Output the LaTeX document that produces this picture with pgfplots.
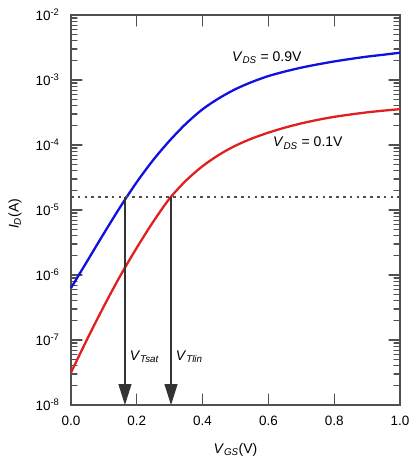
\documentclass[border=0pt]{standalone}
\usepackage{fontspec}
\setmainfont{Liberation Sans}
\usepackage{pgfplots}
\pgfplotsset{compat=1.18}
\usetikzlibrary{arrows.meta}
\definecolor{axgray}{HTML}{505050}
\definecolor{curveblue}{HTML}{1010E0}
\definecolor{curvered}{HTML}{E02020}
\pgfplotsset{
  framepart/.style={axgray, line width=1.4pt, forget plot},
  tickpath/.style={axgray, line width=1.1pt, line join=round, forget plot},
}
\begin{document}
\begin{tikzpicture}
\begin{axis}[
  scale only axis,
  width=329pt, height=390pt,
  ymode=log,
  xmin=0, xmax=1, ymin=1e-8, ymax=1e-2,
  axis line style={axgray, line width=1.4pt},
  tick style={axgray, line width=1.1pt},
  tick align=inside,
  major tick length=11pt,
  minor tick length=6pt,
  xtick={0,0.2,0.4,0.6,0.8,1.0},
  xticklabels={0.0,0.2,0.4,0.6,0.8,1.0},
  ytick={1e-8,1e-7,1e-6,1e-5,1e-4,1e-3,1e-2},
  yticklabels={10\textsuperscript{-8},10\textsuperscript{-7},10\textsuperscript{-6},10\textsuperscript{-5},10\textsuperscript{-4},10\textsuperscript{-3},10\textsuperscript{-2}},
  ticklabel style={font=\fontsize{13.5}{16}\selectfont, text=black},
  xticklabel style={anchor=center, yshift=-16pt},
  yticklabel style={anchor=east, xshift=-8pt},
  xlabel={\textit{V}\textsubscript{\textit{GS}}(V)},
  ylabel={\textit{I}\textsubscript{\textit{D}}(A)},
  label style={font=\fontsize{14}{16}\selectfont},
  xlabel style={at={(axis description cs:0.5,0)}, anchor=center, yshift=-45pt},
  ylabel style={at={(axis description cs:0,0.49)}, anchor=center, rotate=0, yshift=56pt},
  clip=false,
]
% frame
\addplot[framepart] coordinates {(0,1e-8) (1,1e-8) (1,1e-2) (0,1e-2) (0,1e-8)};
% x ticks, bottom and top, as one zigzag path each
\addplot[tickpath] coordinates {(0,1e-8)
 (0.2,1e-8)(0.2,1.476e-8)(0.2,1e-8) (0.4,1e-8)(0.4,1.476e-8)(0.4,1e-8)
 (0.6,1e-8)(0.6,1.476e-8)(0.6,1e-8) (0.8,1e-8)(0.8,1.476e-8)(0.8,1e-8) (1,1e-8)};
\addplot[tickpath] coordinates {(0,1e-2)
 (0.2,1e-2)(0.2,6.78e-3)(0.2,1e-2) (0.4,1e-2)(0.4,6.78e-3)(0.4,1e-2)
 (0.6,1e-2)(0.6,6.78e-3)(0.6,1e-2) (0.8,1e-2)(0.8,6.78e-3)(0.8,1e-2) (1,1e-2)};
% y ticks on the left side
\addplot[tickpath] coordinates {(0,1e-8)
 (0,2e-8)(0.0182,2e-8)(0,2e-8) (0,3e-8)(0.0182,3e-8)(0,3e-8) (0,4e-8)(0.0182,4e-8)(0,4e-8)
 (0,5e-8)(0.0182,5e-8)(0,5e-8) (0,6e-8)(0.0182,6e-8)(0,6e-8) (0,7e-8)(0.0182,7e-8)(0,7e-8)
 (0,8e-8)(0.0182,8e-8)(0,8e-8) (0,9e-8)(0.0182,9e-8)(0,9e-8) (0,1e-7)(0.0334,1e-7)(0,1e-7)
 (0,2e-7)(0.0182,2e-7)(0,2e-7) (0,3e-7)(0.0182,3e-7)(0,3e-7) (0,4e-7)(0.0182,4e-7)(0,4e-7)
 (0,5e-7)(0.0182,5e-7)(0,5e-7) (0,6e-7)(0.0182,6e-7)(0,6e-7) (0,7e-7)(0.0182,7e-7)(0,7e-7)
 (0,8e-7)(0.0182,8e-7)(0,8e-7) (0,9e-7)(0.0182,9e-7)(0,9e-7) (0,1e-6)(0.0334,1e-6)(0,1e-6)
 (0,2e-6)(0.0182,2e-6)(0,2e-6) (0,3e-6)(0.0182,3e-6)(0,3e-6) (0,4e-6)(0.0182,4e-6)(0,4e-6)
 (0,5e-6)(0.0182,5e-6)(0,5e-6) (0,6e-6)(0.0182,6e-6)(0,6e-6) (0,7e-6)(0.0182,7e-6)(0,7e-6)
 (0,8e-6)(0.0182,8e-6)(0,8e-6) (0,9e-6)(0.0182,9e-6)(0,9e-6) (0,1e-5)(0.0334,1e-5)(0,1e-5)
 (0,2e-5)(0.0182,2e-5)(0,2e-5) (0,3e-5)(0.0182,3e-5)(0,3e-5) (0,4e-5)(0.0182,4e-5)(0,4e-5)
 (0,5e-5)(0.0182,5e-5)(0,5e-5) (0,6e-5)(0.0182,6e-5)(0,6e-5) (0,7e-5)(0.0182,7e-5)(0,7e-5)
 (0,8e-5)(0.0182,8e-5)(0,8e-5) (0,9e-5)(0.0182,9e-5)(0,9e-5) (0,1e-4)(0.0334,1e-4)(0,1e-4)
 (0,2e-4)(0.0182,2e-4)(0,2e-4) (0,3e-4)(0.0182,3e-4)(0,3e-4) (0,4e-4)(0.0182,4e-4)(0,4e-4)
 (0,5e-4)(0.0182,5e-4)(0,5e-4) (0,6e-4)(0.0182,6e-4)(0,6e-4) (0,7e-4)(0.0182,7e-4)(0,7e-4)
 (0,8e-4)(0.0182,8e-4)(0,8e-4) (0,9e-4)(0.0182,9e-4)(0,9e-4) (0,1e-3)(0.0334,1e-3)(0,1e-3)
 (0,2e-3)(0.0182,2e-3)(0,2e-3) (0,3e-3)(0.0182,3e-3)(0,3e-3) (0,4e-3)(0.0182,4e-3)(0,4e-3)
 (0,5e-3)(0.0182,5e-3)(0,5e-3) (0,6e-3)(0.0182,6e-3)(0,6e-3) (0,7e-3)(0.0182,7e-3)(0,7e-3)
 (0,8e-3)(0.0182,8e-3)(0,8e-3) (0,9e-3)(0.0182,9e-3)(0,9e-3) (0,1e-2)};
% y ticks on the right side
\addplot[tickpath] coordinates {(1,1e-8)
 (1,2e-8)(0.9818,2e-8)(1,2e-8) (1,3e-8)(0.9818,3e-8)(1,3e-8) (1,4e-8)(0.9818,4e-8)(1,4e-8)
 (1,5e-8)(0.9818,5e-8)(1,5e-8) (1,6e-8)(0.9818,6e-8)(1,6e-8) (1,7e-8)(0.9818,7e-8)(1,7e-8)
 (1,8e-8)(0.9818,8e-8)(1,8e-8) (1,9e-8)(0.9818,9e-8)(1,9e-8) (1,1e-7)(0.9666,1e-7)(1,1e-7)
 (1,2e-7)(0.9818,2e-7)(1,2e-7) (1,3e-7)(0.9818,3e-7)(1,3e-7) (1,4e-7)(0.9818,4e-7)(1,4e-7)
 (1,5e-7)(0.9818,5e-7)(1,5e-7) (1,6e-7)(0.9818,6e-7)(1,6e-7) (1,7e-7)(0.9818,7e-7)(1,7e-7)
 (1,8e-7)(0.9818,8e-7)(1,8e-7) (1,9e-7)(0.9818,9e-7)(1,9e-7) (1,1e-6)(0.9666,1e-6)(1,1e-6)
 (1,2e-6)(0.9818,2e-6)(1,2e-6) (1,3e-6)(0.9818,3e-6)(1,3e-6) (1,4e-6)(0.9818,4e-6)(1,4e-6)
 (1,5e-6)(0.9818,5e-6)(1,5e-6) (1,6e-6)(0.9818,6e-6)(1,6e-6) (1,7e-6)(0.9818,7e-6)(1,7e-6)
 (1,8e-6)(0.9818,8e-6)(1,8e-6) (1,9e-6)(0.9818,9e-6)(1,9e-6) (1,1e-5)(0.9666,1e-5)(1,1e-5)
 (1,2e-5)(0.9818,2e-5)(1,2e-5) (1,3e-5)(0.9818,3e-5)(1,3e-5) (1,4e-5)(0.9818,4e-5)(1,4e-5)
 (1,5e-5)(0.9818,5e-5)(1,5e-5) (1,6e-5)(0.9818,6e-5)(1,6e-5) (1,7e-5)(0.9818,7e-5)(1,7e-5)
 (1,8e-5)(0.9818,8e-5)(1,8e-5) (1,9e-5)(0.9818,9e-5)(1,9e-5) (1,1e-4)(0.9666,1e-4)(1,1e-4)
 (1,2e-4)(0.9818,2e-4)(1,2e-4) (1,3e-4)(0.9818,3e-4)(1,3e-4) (1,4e-4)(0.9818,4e-4)(1,4e-4)
 (1,5e-4)(0.9818,5e-4)(1,5e-4) (1,6e-4)(0.9818,6e-4)(1,6e-4) (1,7e-4)(0.9818,7e-4)(1,7e-4)
 (1,8e-4)(0.9818,8e-4)(1,8e-4) (1,9e-4)(0.9818,9e-4)(1,9e-4) (1,1e-3)(0.9666,1e-3)(1,1e-3)
 (1,2e-3)(0.9818,2e-3)(1,2e-3) (1,3e-3)(0.9818,3e-3)(1,3e-3) (1,4e-3)(0.9818,4e-3)(1,4e-3)
 (1,5e-3)(0.9818,5e-3)(1,5e-3) (1,6e-3)(0.9818,6e-3)(1,6e-3) (1,7e-3)(0.9818,7e-3)(1,7e-3)
 (1,8e-3)(0.9818,8e-3)(1,8e-3) (1,9e-3)(0.9818,9e-3)(1,9e-3) (1,1e-2)};
% V_DS = 0.9 V
\addplot[curveblue, line width=2.3pt, smooth] coordinates {
 (0.00,6.31e-7) (0.05,1.66e-6) (0.10,4.37e-6) (0.15,1.12e-5) (0.20,2.69e-5)
 (0.25,5.89e-5) (0.30,1.17e-4) (0.35,2.14e-4) (0.40,3.55e-4) (0.45,5.25e-4)
 (0.50,7.24e-4) (0.55,9.33e-4) (0.60,1.15e-3) (0.65,1.35e-3) (0.70,1.55e-3)
 (0.75,1.74e-3) (0.80,1.93e-3) (0.85,2.11e-3) (0.90,2.29e-3) (0.95,2.45e-3)
 (1.00,2.63e-3)};
% V_DS = 0.1 V
\addplot[curvered, line width=2.3pt, smooth] coordinates {
 (0.00,3.16e-8) (0.05,1.05e-7) (0.10,3.31e-7) (0.15,9.77e-7) (0.20,2.63e-6)
 (0.25,6.61e-6) (0.30,1.51e-5) (0.35,2.85e-5) (0.40,4.73e-5) (0.45,7.08e-5)
 (0.50,9.77e-5) (0.55,1.26e-4) (0.60,1.55e-4) (0.65,1.85e-4) (0.70,2.15e-4)
 (0.75,2.44e-4) (0.80,2.71e-4) (0.85,2.95e-4) (0.90,3.18e-4) (0.95,3.38e-4)
 (1.00,3.56e-4)};
% constant-current criterion
\addplot[axgray, line width=2pt, dash pattern=on 2.6pt off 4.2pt] coordinates {(0,1.58e-5) (1,1.58e-5)};
% threshold arrows
\addplot[black!80, line width=1.2pt, -{Triangle[length=21pt,width=13pt]}] coordinates {(0.164,1.58e-5) (0.164,1e-8)};
\addplot[black!80, line width=1.2pt, -{Triangle[length=21pt,width=13pt]}] coordinates {(0.304,1.58e-5) (0.304,1e-8)};
\node[anchor=west, font=\fontsize{14}{16}\selectfont] at (axis cs:0.168,5.5e-8) {\textit{V}\textsubscript{\textit{Tsat}}};
\node[anchor=west, font=\fontsize{14}{16}\selectfont] at (axis cs:0.308,5.5e-8) {\textit{V}\textsubscript{\textit{Tlin}}};
\node[font=\fontsize{14}{16}\selectfont] at (axis cs:0.595,2.2e-3) {\textit{V}\textsubscript{\textit{DS}} = 0.9V};
\node[font=\fontsize{14}{16}\selectfont] at (axis cs:0.72,1.07e-4) {\textit{V}\textsubscript{\textit{DS}} = 0.1V};
\end{axis}
\pgfresetboundingbox
\path (current axis.south west) ++(-71pt,-58pt) coordinate (bbsw);
\path (current axis.north east) ++(11pt,15pt) coordinate (bbne);
\useasboundingbox (bbsw) rectangle (bbne);
\end{tikzpicture}
\end{document}
